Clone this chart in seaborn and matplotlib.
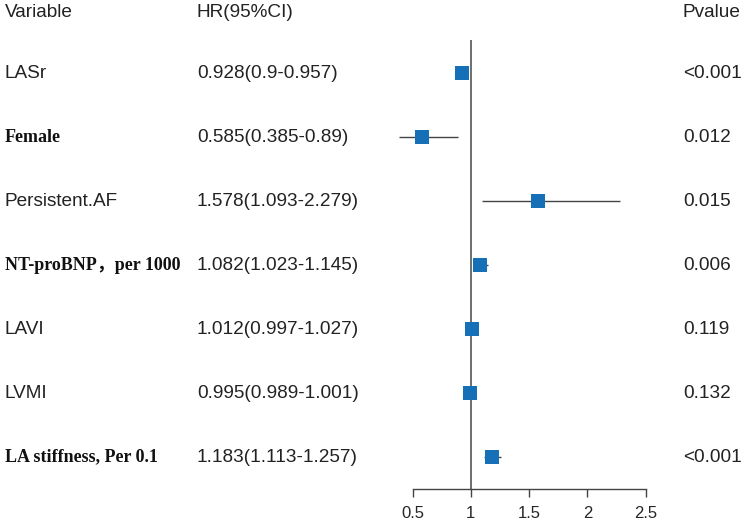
import numpy as np
import pandas as pd
import matplotlib
matplotlib.use("Agg")
import matplotlib.pyplot as plt
import matplotlib.transforms as mtransforms
import seaborn as sns

# data
variables = ["LASr", "Female", "Persistent.AF", "NT-proBNP，per 1000",
             "LAVI", "LVMI", "LA stiffness, Per 0.1"]
bold_label = [False, True, False, True, False, False, True]
hr = [0.928, 0.585, 1.578, 1.082, 1.012, 0.995, 1.183]
lower = [0.9, 0.385, 1.093, 1.023, 0.997, 0.989, 1.113]
upper = [0.957, 0.89, 2.279, 1.145, 1.027, 1.001, 1.257]
hr_text = ["0.928(0.9-0.957)", "0.585(0.385-0.89)", "1.578(1.093-2.279)",
           "1.082(1.023-1.145)", "1.012(0.997-1.027)", "0.995(0.989-1.001)",
           "1.183(1.113-1.257)"]
pvalues = ["<0.001", "0.012", "0.015", "0.006", "0.119", "0.132", "<0.001"]
x_ticks = [0.5, 1, 1.5, 2, 2.5]
x_tick_labels = ["0.5", "1", "1.5", "2", "2.5"]

df = pd.DataFrame({"variable": variables, "hr": hr, "lower": lower, "upper": upper})
df["row"] = -np.arange(len(df))

sns.set_style("white")
plt.rcParams["font.family"] = ["Liberation Sans", "DejaVu Sans"]

W, H = 750, 521
fig = plt.figure(figsize=(7.5, 5.21), dpi=100)
# axes from x=0.5 (412.5px) to 2.5 (645.7px), from 40px to 489px vertically
ax = fig.add_axes([412.5 / W, (H - 489) / H, (645.7 - 412.5) / W, (489 - 40) / H])
ax.set_xlim(0.5, 2.5)
ax.set_ylim(-6.5, 0.516)

# reference line at HR = 1
ax.axvline(1, color="#555555", lw=1.2, zorder=1)

# confidence intervals
ax.hlines(df["row"], df["lower"], df["upper"], color="#444444", lw=1.0,
          zorder=2, clip_on=False)

# point estimates
sns.scatterplot(data=df, x="hr", y="row", marker="s", s=100, color="#1670b8",
                edgecolor="none", ax=ax, zorder=3, legend=False, clip_on=False)

for s in ["top", "right", "left"]:
    ax.spines[s].set_visible(False)
ax.spines["bottom"].set_color("#444444")
ax.spines["bottom"].set_linewidth(1.0)
ax.set_xticks(x_ticks)
ax.set_xticklabels(x_tick_labels, fontsize=12)
ax.tick_params(axis="x", direction="out", length=6, width=1.0, color="#444444",
               pad=6, bottom=True)
ax.set_yticks([])
ax.set_xlabel("")
ax.set_ylabel("")

# text columns: x in figure fraction, y in data units
trans = mtransforms.blended_transform_factory(fig.transFigure, ax.transData)
col_var, col_hr, col_p = 5 / W, 197 / W, 683 / W
header_y = 0.94
for x, t in [(col_var, "Variable"), (col_hr, "HR(95%CI)"), (col_p, "Pvalue")]:
    ax.text(x, header_y, t, transform=trans, ha="left", va="center",
            fontsize=13.7, color="#222222", clip_on=False)

for i, row in df.iterrows():
    y = row["row"]
    if bold_label[i]:
        ax.text(col_var, y, row["variable"], transform=trans, ha="left", va="center",
                fontsize=13, fontweight="bold", color="#111111",
                family=["Liberation Serif", "Noto Sans CJK SC"], clip_on=False)
    else:
        ax.text(col_var, y, row["variable"], transform=trans, ha="left", va="center",
                fontsize=13.7, color="#222222", clip_on=False)
    ax.text(col_hr, y, hr_text[i], transform=trans, ha="left", va="center",
            fontsize=13.7, color="#222222", clip_on=False)
    ax.text(col_p, y, pvalues[i], transform=trans, ha="left", va="center",
            fontsize=13.7, color="#222222", clip_on=False)

fig.savefig("out.png", dpi=100, facecolor="white")
